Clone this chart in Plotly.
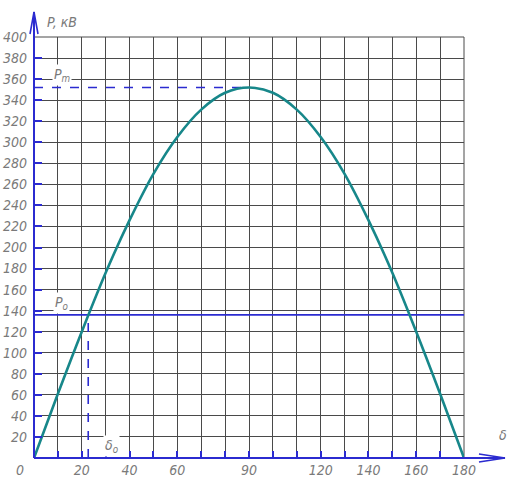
import plotly.graph_objects as go

# load angle (deg) and active power (kW)
delta = [0, 10, 20, 30, 40, 50, 60, 70, 80, 90, 100, 110, 120, 130, 140, 150, 160, 170, 180]
power = [0, 61, 120, 176, 226, 270, 305, 331, 347, 352, 347, 331, 305, 270, 226, 176, 120, 61, 0]

p_max = 352
p_0 = 136
delta_0 = 22.7

x_ticks = [20, 40, 60, 90, 120, 140, 160, 180]
y_ticks = [20, 40, 60, 80, 100, 120, 140, 160, 180, 200, 220, 240, 260, 280, 300, 320, 340, 360, 380, 400]

blue = "#2b2bd0"
grid = "#4a4a4a"
label_font = dict(family="Liberation Sans Narrow, DejaVu Sans Condensed, Liberation Sans",
                  size=14, color="#7a7a7a", style="italic")

fig = go.Figure()

# Pm dashed level
fig.add_trace(go.Scatter(x=[0, 90], y=[p_max, p_max], mode="lines",
                         line=dict(color=blue, width=1.6, dash="dash"), hoverinfo="skip"))
# P0 level
fig.add_trace(go.Scatter(x=[0, 180], y=[p_0, p_0], mode="lines",
                         line=dict(color=blue, width=1.6), hoverinfo="skip"))
# delta0 dashed
fig.add_trace(go.Scatter(x=[delta_0, delta_0], y=[0, p_0], mode="lines",
                         line=dict(color=blue, width=1.6, dash="dash"), hoverinfo="skip"))
# power-angle curve
fig.add_trace(go.Scatter(x=delta, y=power, mode="lines",
                         line=dict(color="#17878a", width=2.6, shape="spline"), hoverinfo="skip"))

shapes = [
    # grid border
    dict(type="rect", xref="paper", yref="paper", x0=0, y0=0, x1=1, y1=1,
         line=dict(color=grid, width=1), layer="below"),
    # axis extensions
    dict(type="line", xref="paper", yref="paper", x0=0, y0=0, x1=1.0953, y1=0,
         line=dict(color=blue, width=2)),
    dict(type="line", xref="paper", yref="paper", x0=0, y0=0, x1=0, y1=1.0594,
         line=dict(color=blue, width=2)),
    # arrow heads
    dict(type="path", xref="paper", yref="paper", xsizemode="pixel", ysizemode="pixel",
         xanchor=1.0953, yanchor=0, path="M -26,4 L 0,0 L -26,-4",
         line=dict(color=blue, width=1.6)),
    dict(type="path", xref="paper", yref="paper", xsizemode="pixel", ysizemode="pixel",
         xanchor=0, yanchor=1.0594, path="M -4,-22 L 0,0 L 4,-22",
         line=dict(color=blue, width=1.6)),
]

annotations = [
    dict(x=0, y=0, xref="x", yref="y", text="0", showarrow=False, xshift=-14, yshift=-12,
         font=label_font),
    # axis names sit outside the data range, so they use paper coordinates
    dict(x=0.026, y=1.059, xref="paper", yref="paper", text="P, кВ", showarrow=False,
         font=label_font, xanchor="left"),
    dict(x=1.105, y=0.031, xref="paper", yref="paper", text="δ", showarrow=False,
         font=label_font),
    dict(x=11.7, y=364, xref="x", yref="y", text="P<sub>m</sub>", showarrow=False,
         font=label_font, bgcolor="white"),
    dict(x=11.7, y=147, xref="x", yref="y", text="P<sub>o</sub>", showarrow=False,
         font=label_font, bgcolor="white"),
    dict(x=32.5, y=11, xref="x", yref="y", text="δ<sub>o</sub>", showarrow=False,
         font=label_font, bgcolor="white"),
]

fig.update_layout(
    width=516, height=494,
    margin=dict(l=34, r=52, t=37, b=36),
    plot_bgcolor="white", paper_bgcolor="white",
    showlegend=False,
    shapes=shapes,
    annotations=annotations,
    xaxis=dict(range=[0, 180], tickvals=x_ticks, ticktext=[str(v) for v in x_ticks],
               automargin=False,
               showgrid=True, gridcolor=grid, gridwidth=1, zeroline=False,
               showline=False, ticks="inside", ticklen=7, tickwidth=2, tickcolor=blue,
               tickfont=label_font, ticklabelstandoff=2,
               minor=dict(dtick=10, tick0=0, showgrid=True, gridcolor=grid, gridwidth=1,
                          ticks="inside", ticklen=7, tickwidth=2, tickcolor=blue)),
    yaxis=dict(range=[0, 400], tickvals=y_ticks, ticktext=[str(v) for v in y_ticks],
               automargin=False,
               showgrid=True, gridcolor=grid, gridwidth=1, zeroline=False,
               showline=False, ticks="inside", ticklen=8, tickwidth=2, tickcolor=blue,
               tickfont=label_font, ticklabelstandoff=6),
)

# drop the default 8px page margin so the figure fills the window
fig.write_html("out.html", config={"displayModeBar": False},
               post_script="document.body.style.margin = '0';")
